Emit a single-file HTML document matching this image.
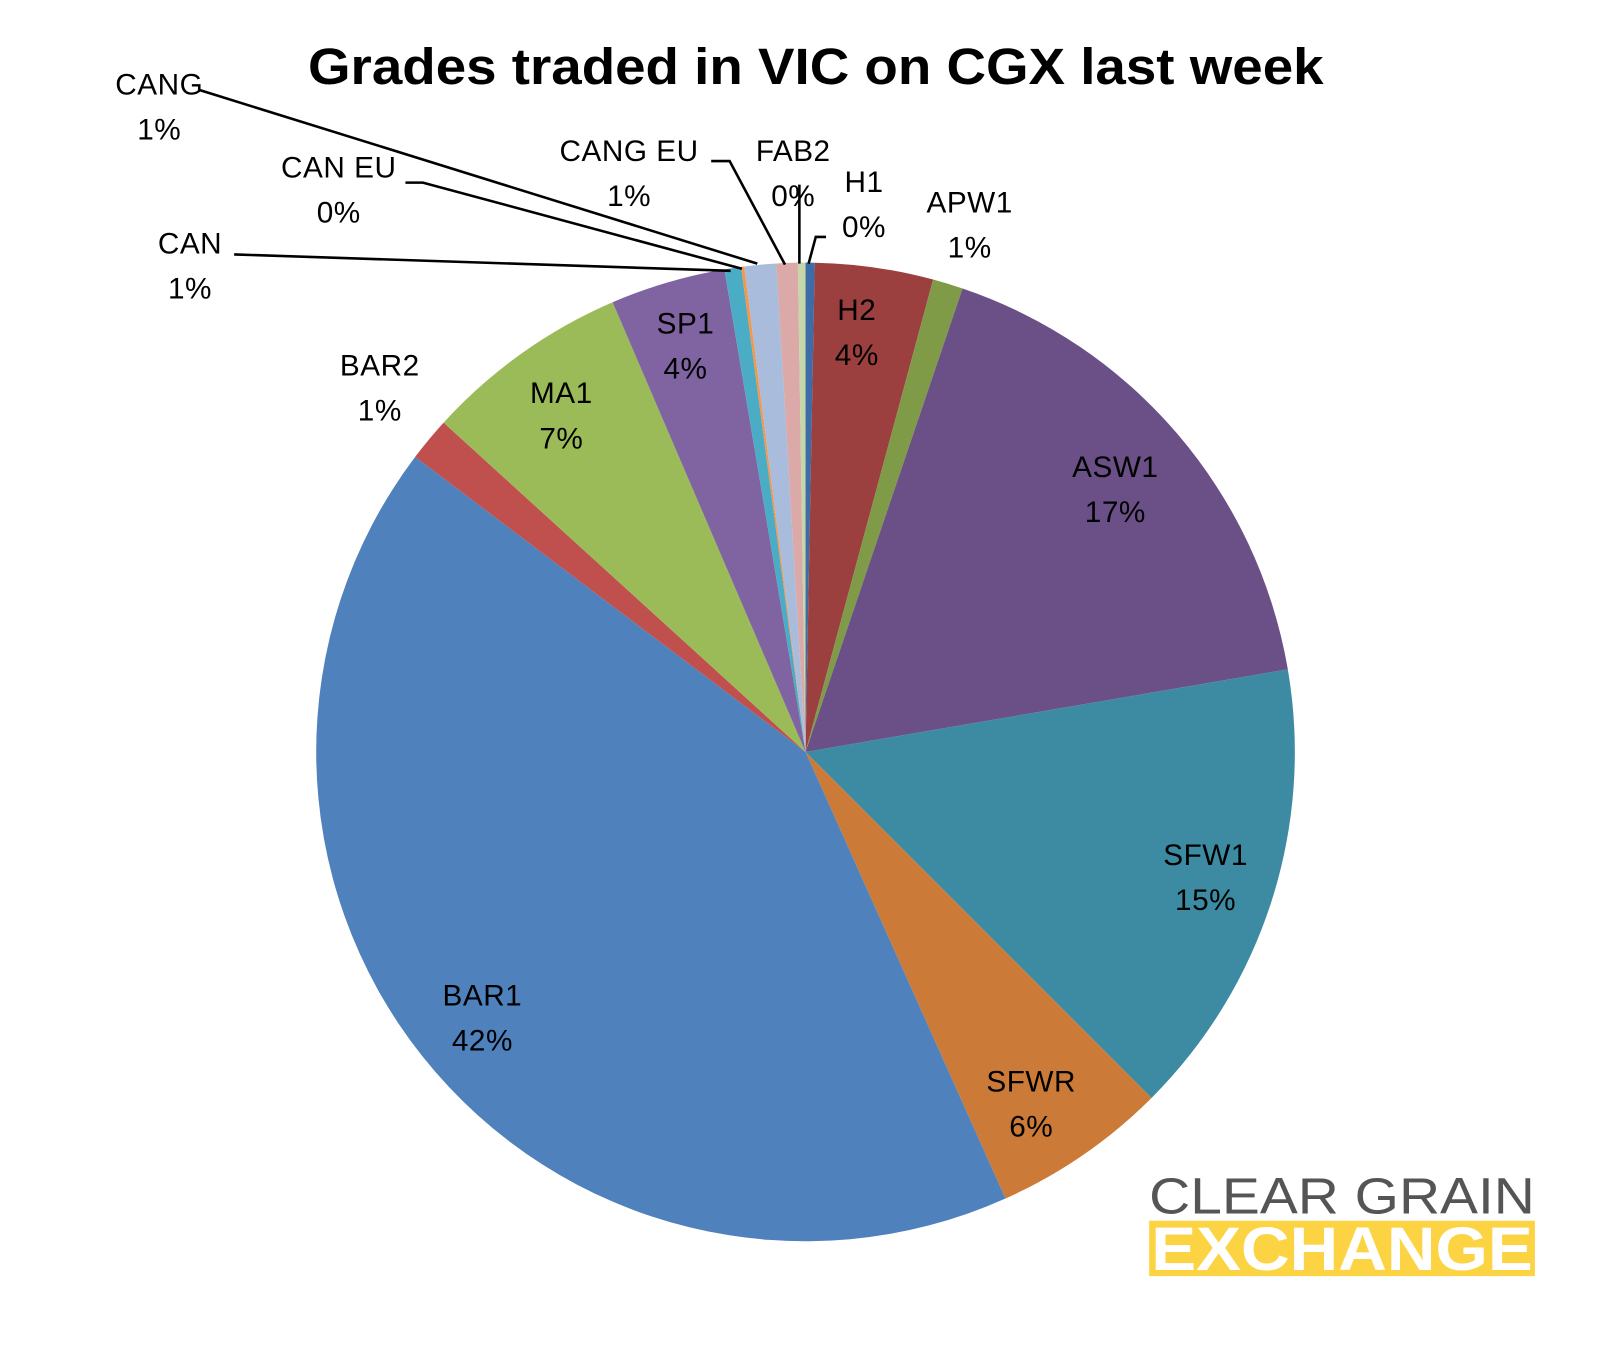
<!DOCTYPE html>
<html><head><meta charset="utf-8"><style>
html,body{margin:0;padding:0;background:#fff}
svg{display:block}
text{font-family:"Liberation Sans",sans-serif}
</style></head><body>
<svg id="chart" width="1609" height="1350" viewBox="0 0 1568 1316" xmlns="http://www.w3.org/2000/svg">
<text x="300" y="82" font-size="50" font-weight="bold" fill="#000" textLength="990" lengthAdjust="spacingAndGlyphs">Grades traded in VIC on CGX last week</text>
<g id="slices"></g>
<g id="leaders" stroke="#000" stroke-width="2.5" fill="none">
<polyline points="195,88 738,257"/>
<polyline points="395,178 412,178 723,262"/>
<polyline points="228,248 712,264"/>
<polyline points="693,157 711,157 765,258"/>
<polyline points="779,180 779,257"/>
<polyline points="805,231 795,231 788,257"/>
</g>
<g id="labels" font-size="29" fill="#000" text-anchor="middle" letter-spacing="0.5"></g>
<g>
<text x="1120" y="1183" font-size="50" fill="#555" textLength="376" lengthAdjust="spacingAndGlyphs">CLEAR GRAIN</text>
<rect x="1120" y="1190" width="376" height="54" fill="#fcd443"/>
<text x="1122" y="1238" font-size="60" font-weight="bold" fill="#fff" textLength="372" lengthAdjust="spacingAndGlyphs">EXCHANGE</text>
</g>
</svg>
<script>
const categories = ["H1","H2","APW1","ASW1","SFW1","SFWR","BAR1","BAR2","MA1","SP1","CAN","CAN EU","CANG","CANG EU","FAB2"];
const values = [0.3,3.9,1.0,17.1,15.2,5.8,42.0,1.45,6.8,3.8,0.55,0.1,1.05,0.7,0.25];
const pctLabels = ["0%","4%","1%","17%","15%","6%","42%","1%","7%","4%","1%","0%","1%","1%","0%"];
const colors = ["#3e6ca6","#9c403f","#7f9b48","#6a5086","#3c8ba2","#cc7a37","#4f81bd","#c0504d","#9bbb59","#8064a2","#4bacc6","#f79646","#a9bcdb","#dba9a8","#c5d6a8"];
const labelPos = [[842,187],[835,312],[945,207],[1087,465],[1175,843],[1005,1064],[470,980],[370,366],[547,393],[668,325],[185,247],[330,173],[155,92],[613,157],[773,157]];
const cx=785, cy=733, r=477;
const NS="http://www.w3.org/2000/svg";
const total = values.reduce((a,b)=>a+b,0);
function angle(v){return v/total*2*Math.PI;}
function pt(a){return [cx+r*Math.sin(a), cy-r*Math.cos(a)];}
const sg=document.getElementById('slices');
let acc=0;
values.forEach((v,i)=>{
  const a0=angle(acc), a1=angle(acc+v); acc+=v;
  const p0=pt(a0), p1=pt(a1);
  const large=(a1-a0)>Math.PI?1:0;
  const p=document.createElementNS(NS,'path');
  p.setAttribute('d',`M${cx},${cy} L${p0[0]},${p0[1]} A${r},${r} 0 ${large} 1 ${p1[0]},${p1[1]} Z`);
  p.setAttribute('fill',colors[i]);
  
  
  sg.appendChild(p);
});
const lg=document.getElementById('labels');
categories.forEach((c,i)=>{
  const t=document.createElementNS(NS,'text');
  
  
  t.setAttribute('x',labelPos[i][0]); t.setAttribute('y',labelPos[i][1]);
  t.textContent=c;
  const t2=document.createElementNS(NS,'text');
  
  
  t2.setAttribute('x',labelPos[i][0]); t2.setAttribute('y',labelPos[i][1]+44);
  t2.textContent=pctLabels[i];
  lg.appendChild(t); lg.appendChild(t2);
});
</script>
</body></html>
